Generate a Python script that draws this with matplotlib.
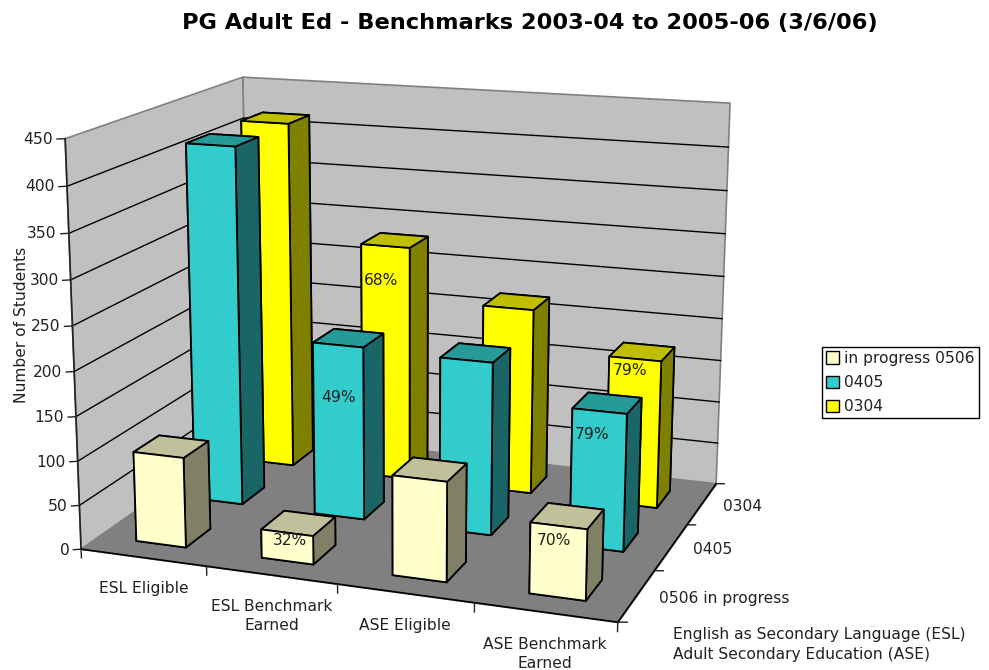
import numpy as np
import matplotlib
matplotlib.use('Agg')
import matplotlib.pyplot as plt
from matplotlib.patches import Patch
from matplotlib.ticker import NullLocator
from matplotlib.transforms import Affine2D
from mpl_toolkits.mplot3d import proj3d
from mpl_toolkits.mplot3d.art3d import Poly3DCollection

# datos de la grafica
categorias = ['ESL Eligible', 'ESL Benchmark\nEarned', 'ASE Eligible', 'ASE Benchmark\nEarned']
series = ['0506 in progress', '0405', '0304']
leyenda = ['in progress 0506', '0405', '0304']
v0506 = [102, 32, 110, 77]
v0405 = [415, 200, 197, 155]
v0304 = [416, 280, 219, 173]
valores = [v0506, v0405, v0304]
ticks_z = [0, 50, 100, 150, 200, 250, 300, 350, 400, 450]

# (serie, categoria, texto, corrimiento en x, corrimiento hacia abajo)
etiquetas = [
    (0, 1, '32%', 0.02, 8),
    (0, 3, '70%', -0.03, 16),
    (1, 1, '49%', 0.0, 60),
    (1, 3, '79%', -0.05, 27),
    (2, 1, '68%', -0.04, 41),
    (2, 3, '79%', -0.04, 14),
]

# colores: frente, tapa, lado
colores = [('#FFFFCC', '#C0C09A', '#808066'),
           ('#33CCCC', '#269999', '#1A6666'),
           ('#FFFF00', '#BFBF00', '#808000')]

ancho = 0.40
fondo = 0.42
fuente = 11.15

plt.rcParams['font.family'] = 'DejaVu Sans'
plt.rcParams['text.color'] = '#222222'


# camara: matriz 3x4 que lleva (cat, serie, valor) a pixeles de la figura
def camara():
    pares = [((0, 0, 0), (81, 549)), ((0, 0, 450), (65, 139)), ((0, 3, 450), (243, 77)),
             ((4, 3, 450), (730, 103)), ((4, 3, 0), (716, 484)), ((4, 0, 0), (618, 622))]
    filas = []
    for (x, y, z), (u, v) in pares:
        filas.append([x, y, z, 1, 0, 0, 0, 0, -u*x, -u*y, -u*z, -u])
        filas.append([0, 0, 0, 0, x, y, z, 1, -v*x, -v*y, -v*z, -v])
    h = np.linalg.svd(np.array(filas, dtype=float))[2][-1].reshape(3, 4)
    if h[2] @ [2, 1.5, 200, 1] < 0:
        h = -h
    h = h / (h[2] @ [2, 1.5, 200, 1])
    # la tercera fila guarda la profundidad (-1/w) para ordenar las caras
    return np.array([h[0], h[1], [0, 0, 0, -1], h[2]])


M = camara()

fig = plt.figure(figsize=(9.89, 6.70), dpi=100)
ax = fig.add_axes([0, 0, 1, 1], projection='3d', computed_zorder=False, proj_type='ortho')
ax.get_proj = lambda: M
ax.apply_aspect = lambda position=None: None
ax.transData = Affine2D().scale(1, -1).translate(0, 670)
ax.set_axis_off()
for eje in (ax.xaxis, ax.yaxis, ax.zaxis):
    eje.set_major_locator(NullLocator())


# escribe un texto en la posicion proyectada de un punto 3d
def rotulo(x, y, z, texto, **kw):
    u, v, _ = proj3d.proj_transform(x, y, z, M)
    fig.text(u / 989, 1 - v / 670, texto, fontsize=fuente, **kw)


zmax = ticks_z[-1]
ncat = len(categorias)
nser = len(series)

# paredes y piso
pared_izq = [(0, 0, 0), (0, nser, 0), (0, nser, zmax), (0, 0, zmax)]
pared_fondo = [(0, nser, 0), (ncat, nser, 0), (ncat, nser, zmax), (0, nser, zmax)]
piso = [(0, 0, 0), (ncat, 0, 0), (ncat, nser, 0), (0, nser, 0)]
ax.add_collection3d(Poly3DCollection([pared_izq, pared_fondo], facecolors='#C0C0C0', edgecolors='#808080', linewidths=1.2, zorder=1))
ax.add_collection3d(Poly3DCollection([piso], facecolors='#808080', edgecolors='#808080', linewidths=1, zorder=1))

# lineas de la cuadricula
for t in ticks_z[1:-1]:
    ax.plot([0, 0, ncat], [0, nser, nser], [t, t, t], color='black', lw=1, zorder=2)

# ejes y marcas
ax.plot([0, 0], [0, 0], [0, zmax], color='#222222', lw=1.2, zorder=2)
ax.plot([0, ncat, ncat], [0, 0, nser], [0, 0, 0], color='black', lw=1.2, zorder=2)
for t in ticks_z:
    ax.plot([0, -0.047], [0, -0.03], [t, t], color='#222222', lw=1, zorder=2)
    rotulo(-0.07, -0.045, t, str(t), ha='right', va='center')
for i in range(ncat + 1):
    ax.plot([i, i], [0, 0], [0, -10], color='#222222', lw=1, zorder=2)
for i in range(nser + 1):
    ax.plot([ncat, ncat + 0.06], [i, i + 0.022], [0, 0], color='#222222', lw=1, zorder=2)

for i, nombre in enumerate(categorias):
    rotulo(i + 0.5, 0, -27, nombre, ha='center', va='top', linespacing=1.33)
for i, nombre in enumerate(series):
    rotulo(ncat + 0.16, i + 0.5, 0, nombre, ha='left', va='center')

# barras, de atras hacia adelante y de izquierda a derecha
for s in range(nser - 1, -1, -1):
    frente, tapa, lado = colores[s]
    for c in range(ncat):
        x = c + (1 - ancho) / 2
        y = s + (1 - fondo) / 2
        caras = [frente, tapa, frente, frente, lado, lado]
        barra = ax.bar3d(x, y, 0, ancho, fondo, valores[s][c], color=caras, shade=False,
                         edgecolor='black', linewidth=1.3)
        barra.set_zorder(10 + (nser - s) * 10 + c)

for s, c, texto, dx, dz in etiquetas:
    y = s + (1 - fondo) / 2
    rotulo(c + 0.5 + dx, y, valores[s][c] - dz, texto, ha='center', va='center')

# textos fuera del dibujo 3d
fig.text(530 / 989, 1 - 23.5 / 670, 'PG Adult Ed - Benchmarks 2003-04 to 2005-06 (3/6/06)', ha='center', va='center',
         fontsize=16.2, fontweight='bold', color='black')
fig.text(22 / 989, 1 - 325 / 670, 'Number of Students', rotation=90, ha='center', va='center', fontsize=fuente)
fig.text(673 / 989, 1 - 634 / 670, 'English as Secondary Language (ESL)', ha='left', va='center', fontsize=fuente)
fig.text(673 / 989, 1 - 654 / 670, 'Adult Secondary Education (ASE)', ha='left', va='center', fontsize=fuente)

manijas = [Patch(facecolor=colores[i][0], edgecolor='black', linewidth=1) for i in range(nser)]
fig.legend(manijas, leyenda, loc='upper left', bbox_to_anchor=(822 / 989, 1 - 347 / 670), fontsize=fuente, fancybox=False,
           framealpha=1, edgecolor='black', borderpad=0.25, handlelength=0.85, handleheight=0.85, handletextpad=0.35,
           labelspacing=0.6, borderaxespad=0)

fig.savefig('out.png', dpi=100)
